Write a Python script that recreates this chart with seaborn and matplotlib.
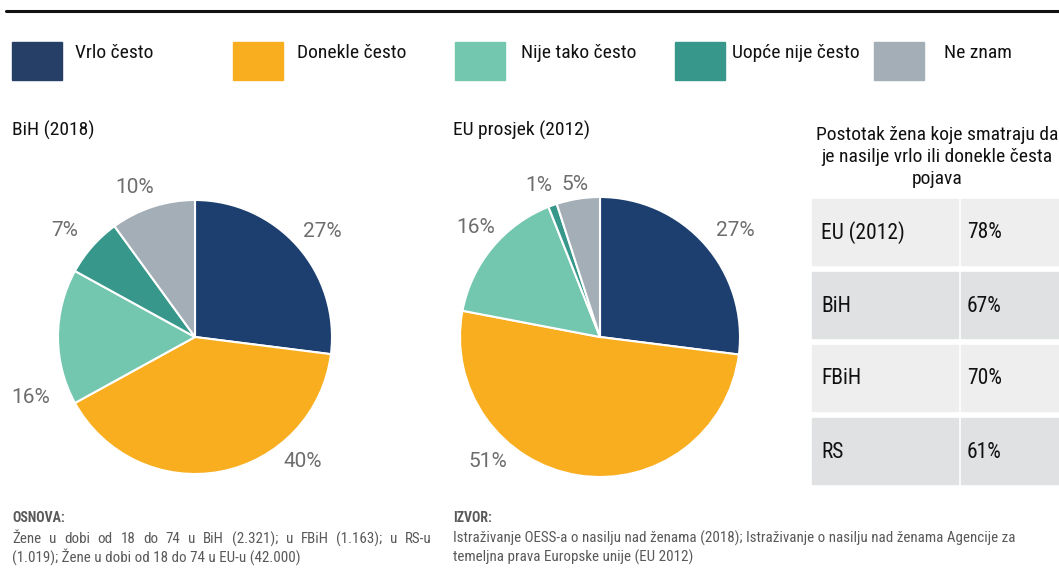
import matplotlib
matplotlib.use("Agg")
import matplotlib.pyplot as plt
import seaborn as sns
from matplotlib.patches import Rectangle
from matplotlib.lines import Line2D

# podaci
kategorije = ["Vrlo često", "Donekle često", "Nije tako često", "Uopće nije često", "Ne znam"]
bih_2018 = [27, 40, 16, 7, 10]
eu_2012 = [27, 51, 16, 1, 5]
boje = ["#1c3f70", "#f9ae1f", "#73c7ae", "#36978a", "#a3aeb7"]

tablica_naslov = "Postotak žena koje smatraju da\nje nasilje vrlo ili donekle česta\npojava"
tablica_redovi = ["EU (2012)", "BiH", "FBiH", "RS"]
tablica_vrijednosti = [78, 67, 70, 61]

osnova_r1 = "Žene u dobi od 18 do 74 u BiH (2.321); u FBiH (1.163); u RS-u"
osnova_r2 = "(1.019); Žene u dobi od 18 do 74 u EU-u (42.000)"
izvor = "Istraživanje OESS-a o nasilju nad ženama (2018); Istraživanje o nasilju nad ženama Agencije za\ntemeljna prava Europske unije (EU 2012)"

sns.set_theme(style="white")
plt.rcParams["font.family"] = ["Roboto Condensed", "DejaVu Sans"]

W, H = 1059, 579
fig = plt.figure(figsize=(W / 100, H / 100), dpi=100)
fig.patch.set_facecolor("white")


def px_ax(x0, y0, x1, y1):
    # osi u pikselima (y od vrha)
    return fig.add_axes([x0 / W, 1 - y1 / H, (x1 - x0) / W, (y1 - y0) / H])


# gornja linija
fig.add_artist(Line2D([6 / W, 1.0], [1 - 10.5 / H] * 2, color="#111111", lw=2.2))

# legenda
leg_x = [12, 233, 455, 675, 874]
txt_x = [75, 297, 521, 732, 944]
leg_boje = ["#253f67"] + boje[1:]
for i, k in enumerate(kategorije):
    fig.add_artist(Rectangle((leg_x[i] / W, 1 - 80 / H), 50 / W, 38 / H,
                             color=leg_boje[i], transform=fig.transFigure))
    fig.text(txt_x[i] / W, 1 - 53 / H, k, fontsize=14, va="center", ha="left", color="#111111")

# naslovi
fig.text(12 / W, 1 - 130 / H, "BiH (2018)", fontsize=14, va="center", color="#111111")
fig.text(453 / W, 1 - 130 / H, "EU prosjek (2012)", fontsize=14, va="center", color="#111111")


def pita(ax, vrijednosti, polozaji):
    ax.pie(vrijednosti, colors=boje, startangle=90, counterclock=False,
           wedgeprops=dict(edgecolor="white", linewidth=1.5))
    ax.set_xlim(-1.3, 1.3)
    ax.set_ylim(-1.3, 1.3)
    ax.set_aspect("equal")
    ax.axis("off")
    for v, (x, y) in zip(vrijednosti, polozaji):
        ax.text(x, y, f"{v}%", ha="center", va="center", fontsize=15, family=["Roboto", "DejaVu Sans"],
                color="#6d6d6d", clip_on=False)


r1, r2 = 137, 140
ax1 = px_ax(195 - 1.3 * r1, 337 - 1.3 * r1, 195 + 1.3 * r1, 337 + 1.3 * r1)
pita(ax1, bih_2018, [(0.93, 0.77), (0.79, -0.91), (-1.20, -0.44), (-0.95, 0.78), (-0.44, 1.09)])
ax2 = px_ax(600 - 1.3 * r2, 337 - 1.3 * r2, 600 + 1.3 * r2, 337 + 1.3 * r2)
pita(ax2, eu_2012, [(0.97, 0.76), (-0.80, -0.89), (-0.89, 0.78), (-0.44, 1.08), (-0.18, 1.09)])

# tablica
axt = px_ax(800, 110, 1059, 495)
axt.set_xlim(800, 1059)
axt.set_ylim(495, 110)
axt.axis("off")
axt.text(937, 157, tablica_naslov, ha="center", va="center", fontsize=14,
         color="#111111", linespacing=1.3)
for i, (naziv, v) in enumerate(zip(tablica_redovi, tablica_vrijednosti)):
    top = 199 + i * 73
    c = "#eeeeef" if i % 2 == 0 else "#e0e1e3"
    axt.add_patch(Rectangle((812, top), 146, 66, color=c))
    axt.add_patch(Rectangle((961, top), 98, 66, color=c))
    axt.text(821, top + 34, naziv, va="center", fontsize=15.5, color="#111111")
    axt.text(967, top + 34, f"{v}%", va="center", fontsize=15.5, color="#111111")

# fusnote
siva = "#595959"
fs = 10.8
fig.text(12 / W, 1 - 518 / H, "OSNOVA:", fontsize=10, fontweight="bold", va="center", color=siva)

# prvi red poravnat obostrano (12 .. 432 px)
rend = fig.canvas.get_renderer()
rijeci = osnova_r1.split(" ")
tx = [fig.text(0, 1 - 539 / H, w, fontsize=fs, va="center", color=siva) for w in rijeci]
sirine = [t.get_window_extent(rend).width for t in tx]
razmak = (432 - 12 - sum(sirine)) / (len(rijeci) - 1)
x = 12
for t, s in zip(tx, sirine):
    t.set_x(x / W)
    x += s + razmak
fig.text(12 / W, 1 - 557 / H, osnova_r2, fontsize=fs, va="center", color=siva)

fig.text(453 / W, 1 - 518 / H, "IZVOR:", fontsize=10, fontweight="bold", va="center", color=siva)
fig.text(453 / W, 1 - 548 / H, izvor, fontsize=fs, va="center", color=siva, linespacing=1.3)

fig.savefig("out.png", dpi=100)
